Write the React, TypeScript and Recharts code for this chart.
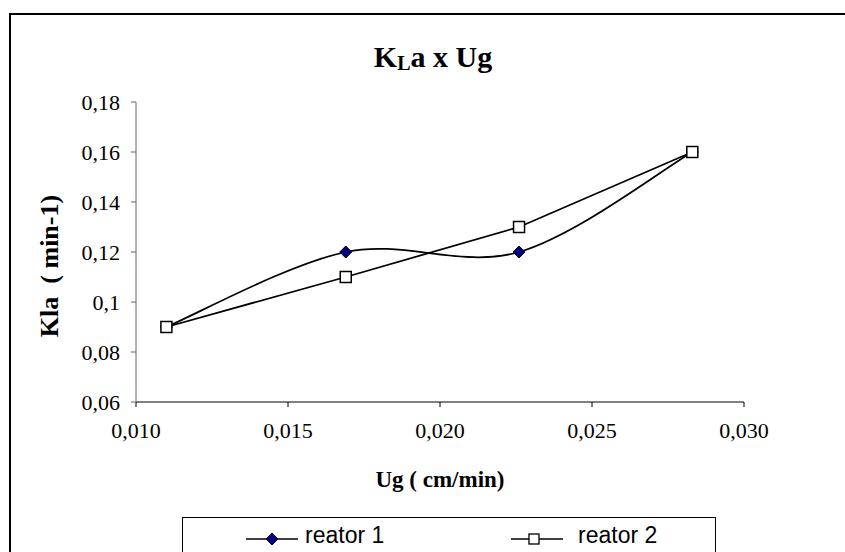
import React from 'react';
import { LineChart, Line, XAxis, YAxis, Legend, Customized, Label } from 'recharts';

const categories = [0.011, 0.0169, 0.0226, 0.0283];
const reator1 = [0.09, 0.12, 0.12, 0.16];
const reator2 = [0.09, 0.11, 0.13, 0.16];
const seriesNames = ['reator 1', 'reator 2'];
const xTicks = [0.01, 0.015, 0.02, 0.025, 0.03];
const xTickLabels = ['0,010', '0,015', '0,020', '0,025', '0,030'];
const yTicks = [0.06, 0.08, 0.1, 0.12, 0.14, 0.16, 0.18];
const yTickLabels = ['0,06', '0,08', '0,1', '0,12', '0,14', '0,16', '0,18'];

const data = categories.map((ug, i) => ({ ug, r1: reator1[i], r2: reator2[i] }));

const SERIF = "'Liberation Serif', 'Times New Roman', serif";
const SANS = "'Liberation Sans', Arial, sans-serif";

const fmt = (ticks: number[], labels: string[]) => (v: number) => {
  const i = ticks.findIndex((t) => Math.abs(t - v) < 1e-9);
  return i >= 0 ? labels[i] : String(v);
};

// Excel-like smoothed line (Catmull-Rom as cubic Bezier)
const excelSmooth: any = (context: any) => {
  let pts: number[][] = [];
  return {
    areaStart() {},
    areaEnd() {},
    lineStart() {
      pts = [];
    },
    point(x: number, y: number) {
      pts.push([+x, +y]);
    },
    lineEnd() {
      if (!pts.length) return;
      context.moveTo(pts[0][0], pts[0][1]);
      for (let i = 0; i < pts.length - 1; i++) {
        const p0 = pts[i - 1] || pts[i];
        const p1 = pts[i];
        const p2 = pts[i + 1];
        const p3 = pts[i + 2] || p2;
        const c1x = p1[0] + (p2[0] - p0[0]) / 6;
        const c1y = p1[1] + (p2[1] - p0[1]) / 6;
        const c2x = p2[0] - (p3[0] - p1[0]) / 6;
        const c2y = p2[1] - (p3[1] - p1[1]) / 6;
        context.bezierCurveTo(c1x, c1y, c2x, c2y, p2[0], p2[1]);
      }
    },
  };
};

const DiamondDot = (props: any) => {
  const { cx, cy, index } = props;
  if (cx == null || cy == null) return null;
  const r = 6;
  return (
    <path
      key={`d-${index}`}
      d={`M${cx},${cy - r}L${cx + r},${cy}L${cx},${cy + r}L${cx - r},${cy}Z`}
      fill="#000080"
      stroke="#000"
      strokeWidth={1}
    />
  );
};

const SquareDot = (props: any) => {
  const { cx, cy, index } = props;
  if (cx == null || cy == null) return null;
  const s = 11;
  return (
    <rect
      key={`s-${index}`}
      x={cx - s / 2}
      y={cy - s / 2}
      width={s}
      height={s}
      fill="#fff"
      stroke="#000"
      strokeWidth={1.5}
    />
  );
};

const LegendContent = () => (
  <svg width={534} height={40} style={{ display: 'block' }}>
    <line x1={63} x2={115} y1={21} y2={21} stroke="#000" strokeWidth={1.5} />
    <path d="M89,15L95,21L89,27L83,21Z" fill="#000080" stroke="#000" strokeWidth={1} />
    <text x={122} y={25} fontFamily={SANS} fontSize={23} fill="#000">
      {seriesNames[0]}
    </text>
    <line x1={328} x2={380} y1={21} y2={21} stroke="#000" strokeWidth={1.5} />
    <rect x={346} y={16} width={10} height={10} fill="#fff" stroke="#000" strokeWidth={1.3} />
    <text x={395} y={25} fontFamily={SANS} fontSize={23} fill="#000">
      {seriesNames[1]}
    </text>
  </svg>
);

const Title = () => (
  <text x={433} y={67} textAnchor="middle" fontFamily={SERIF} fontWeight="bold" fontSize={30} fill="#000">
    K
    <tspan fontSize={20} dy={3}>L</tspan>
    <tspan dy={-3}>a x Ug</tspan>
  </text>
);

const YTitle = () => (
  <text
    transform="translate(58,266) rotate(-90)"
    textAnchor="middle"
    fontFamily={SERIF}
    fontWeight="bold"
    fontSize={26}
    fill="#000"
    style={{ whiteSpace: 'pre' }}
  >
    {'Kla  ( min-1)'}
  </text>
);

export default function App() {
  return (
    <div style={{ position: 'absolute', left: 0, top: 0, width: 845, height: 552, overflow: 'hidden', background: '#fff' }}>
      <div
        style={{
          position: 'absolute',
          left: 9,
          top: 13,
          width: 900,
          height: 700,
          border: '2px solid #000',
          boxSizing: 'border-box',
        }}
      />
      <div style={{ position: 'absolute', left: 0, top: 0 }}>
        <LineChart
          width={845}
          height={552}
          data={data}
          margin={{ top: 102, right: 101, left: 36, bottom: 110 }}
        >
          <XAxis
            dataKey="ug"
            type="number"
            domain={[0.01, 0.03]}
            ticks={xTicks}
            tickFormatter={fmt(xTicks, xTickLabels)}
            height={40}
            tickSize={5}
            tickMargin={15}
            stroke="#000"
            tick={{ fill: '#000', fontFamily: SERIF, fontSize: 22 }}
            allowDataOverflow
          >
            <Label
              value="Ug ( cm/min)"
              position="bottom"
              offset={29}
              style={{ fontFamily: SERIF, fontWeight: 'bold', fontSize: 23, fill: '#000' }}
            />
          </XAxis>
          <YAxis
            type="number"
            domain={[0.06, 0.18]}
            ticks={yTicks}
            tickFormatter={fmt(yTicks, yTickLabels)}
            width={100}
            tickSize={5}
            tickMargin={11}
            stroke="#666"
            tick={{ fill: '#000', fontFamily: SERIF, fontSize: 22 }}
            allowDataOverflow
          />
          <Legend
            layout="horizontal"
            verticalAlign="middle"
            align="center"
            content={LegendContent}
            wrapperStyle={{
              left: 182,
              top: 517,
              width: 534,
              height: 40,
              border: '1px solid #000',
              background: '#fff',
              boxSizing: 'border-box',
            }}
          />
          <Line
            dataKey="r1"
            name={seriesNames[0]}
            type={excelSmooth}
            stroke="#000"
            strokeWidth={1.75}
            dot={DiamondDot}
            activeDot={false}
            isAnimationActive={false}
          />
          <Line
            dataKey="r2"
            name={seriesNames[1]}
            type="linear"
            stroke="#000"
            strokeWidth={1.75}
            dot={SquareDot}
            activeDot={false}
            isAnimationActive={false}
          />
          <Customized component={Title} />
          <Customized component={YTitle} />
        </LineChart>
      </div>
    </div>
  );
}
